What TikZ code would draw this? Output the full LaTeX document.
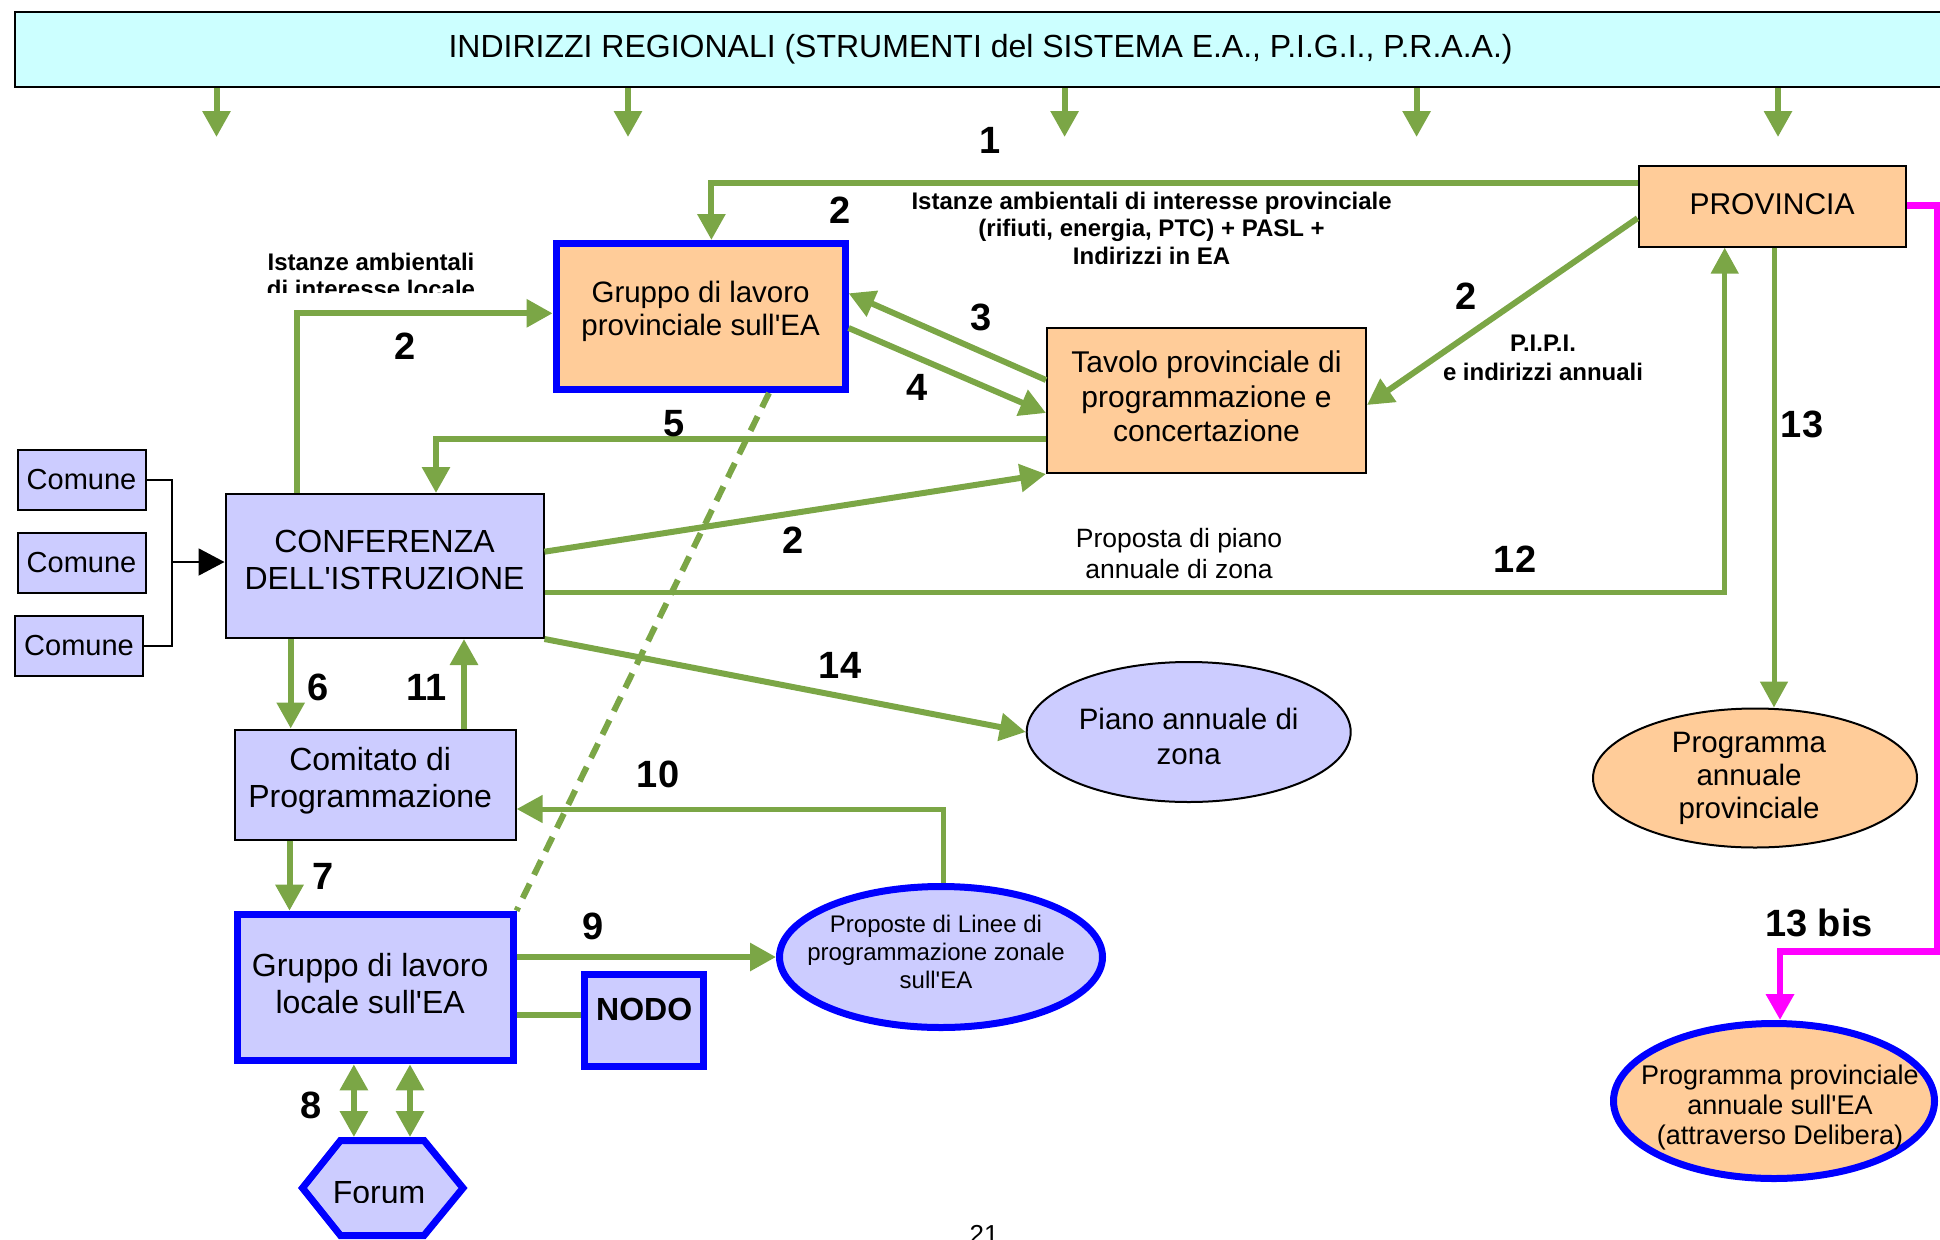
\documentclass[tikz,border=0pt]{standalone}
\usepackage{fontspec}
\setmainfont{Liberation Sans}
\newfontfamily\libs{Liberation Sans}
\usetikzlibrary{arrows.meta,calc,shapes.geometric}
\definecolor{ggreen}{RGB}{123,166,70}
\definecolor{lav}{RGB}{204,204,255}
\definecolor{peach}{RGB}{255,204,153}
\definecolor{lcyan}{RGB}{204,255,255}
\definecolor{bblue}{RGB}{0,0,255}
\definecolor{mag}{RGB}{255,0,255}
\newcommand\myfs[2]{\fontsize{#1}{#2}\libs}
\begin{document}
\begin{tikzpicture}[x=1pt,y=-1pt,
  thinbox/.style={draw=black, line width=2pt, inner sep=0pt, align=center},
  bluebox/.style={draw=bblue, line width=7pt, inner sep=0pt, align=center},
  lab/.style={inner sep=0pt, align=center},
  gl/.style={draw=ggreen, line width=6pt},
  ga/.style={gl, -{Triangle[length=26pt,width=27pt]}},
  gda/.style={gl, {Triangle[length=26pt,width=27pt]}-{Triangle[length=26pt,width=27pt]}},
  ma/.style={draw=mag, line width=6.5pt, -{Triangle[length=26pt,width=27pt]}},
  bk/.style={draw=black, line width=2pt},
  bka/.style={bk, -{Triangle[length=26pt,width=27pt]}},
  num/.style={font=\myfs{38}{38}\bfseries, inner sep=0pt},
  btxt/.style={font=\myfs{24}{27.5}\bfseries, inner sep=0pt, align=center},
  rtxt/.style={font=\myfs{26.5}{31}, inner sep=0pt, align=center}]
\useasboundingbox (0,0) rectangle (1940,1239);

% ---- nodes ----
\node[thinbox, fill=lcyan, minimum width=1931pt, minimum height=75.5pt, font=\myfs{32}{36}] (top) at (980.5,49.5)
  {INDIRIZZI REGIONALI (STRUMENTI del SISTEMA E.A., P.I.G.I., P.R.A.A.)};
\node[thinbox, fill=peach, minimum width=267pt, minimum height=81pt,
  label={[lab, font=\myfs{30}{34}, yshift=2pt]center:PROVINCIA}] (prov) at (1772,206.2) {};
\node[bluebox, fill=peach, minimum width=289pt, minimum height=146pt,
  label={[lab, font=\myfs{29.5}{33}, yshift=5pt]center:{Gruppo di lavoro\\provinciale sull'EA}}] (gprov) at (700.6,316.5) {};
\node[thinbox, fill=peach, minimum width=319pt, minimum height=145pt,
  label={[lab, font=\myfs{30}{34.5}, yshift=4pt]center:{Tavolo provinciale di\\programmazione e\\concertazione}}] (tavolo) at (1206.5,400.5) {};
\node[thinbox, fill=lav, minimum width=318pt, minimum height=144pt,
  label={[lab, font=\myfs{32}{37}, yshift=6pt]center:{CONFERENZA\\DELL'ISTRUZIONE}}] (conf) at (384.5,566) {};
\node[thinbox, fill=lav, minimum width=128pt, minimum height=60pt, font=\myfs{29}{29}] (c1) at (81.5,480) {Comune};
\node[thinbox, fill=lav, minimum width=128pt, minimum height=60pt, font=\myfs{29}{29}] (c2) at (81.5,563) {Comune};
\node[thinbox, fill=lav, minimum width=128pt, minimum height=60pt, font=\myfs{29}{29}] (c3) at (79,645.5) {Comune};
\node[thinbox, fill=lav, minimum width=281pt, minimum height=110pt,
  label={[lab, font=\myfs{32}{37}, yshift=4pt, xshift=-5pt]center:{Comitato di\\Programmazione}}] (comitato) at (375.2,784.5) {};
\node[bluebox, fill=lav, minimum width=275.7pt, minimum height=146.6pt,
  label={[lab, font=\myfs{32}{37}, yshift=4pt, xshift=-5pt]center:{Gruppo di lavoro\\locale sull'EA}}] (glocale) at (375.2,987.5) {};
\node[bluebox, fill=lav, minimum width=118.5pt, minimum height=92.3pt, text depth=22pt, font=\myfs{32}{32}\bfseries] (nodo) at (644.2,1020.3) {NODO};
\node[draw=black, line width=2pt, fill=lav, ellipse, minimum width=324pt, minimum height=140pt, inner sep=0pt,
  label={[lab, font=\myfs{29.5}{35}, yshift=-4pt]center:{Piano annuale di\\zona}}] (piano) at (1188.7,732) {};
\node[draw=black, line width=2pt, fill=peach, ellipse, minimum width=324pt, minimum height=139pt, inner sep=0pt,
  label={[lab, font=\myfs{29.5}{33}, xshift=-6pt]center:{Programma\\annuale\\provinciale}}] (progprov) at (1755,778) {};
\node[draw=bblue, line width=7pt, fill=lav, ellipse, minimum width=323pt, minimum height=141pt, inner sep=0pt,
  label={[lab, font=\myfs{24}{28}, yshift=5pt, xshift=-5pt]center:{Proposte di Linee di\\programmazione zonale\\sull'EA}}] (proposte) at (941,957) {};
\node[draw=bblue, line width=7pt, fill=peach, ellipse, minimum width=321pt, minimum height=155pt, inner sep=0pt,
  label={[lab, font=\myfs{27}{30}, yshift=-6pt, xshift=6pt]center:{Programma provinciale\\annuale sull'EA\\(attraverso Delibera)}}] (progEA) at (1774,1101) {};
% Forum hexagon
\draw[draw=bblue, line width=7pt, fill=lav, line join=miter] (340.5,1140.5) -- (424,1140.5) -- (463,1188) -- (424,1235.5) -- (340.5,1235.5) -- (302.5,1188) -- cycle;
\begin{scope}
  \clip (300,1150) rectangle (470,1202);
  \node[font=\myfs{32}{32}, inner sep=0pt] (forum) at (379,1193) {Forum};
\end{scope}

% ---- top arrows ----
\foreach \x [count=\i] in {216.5,628,1064.6,1416.6,1778} {
  \coordinate (tip\i) at (\x,137);
  \draw[ga] (top.south -| tip\i) -- (tip\i);
}

% ---- connectors ----
\coordinate (b1) at (711.4,182.7);
\draw[ga] (prov.west |- b1) -- (b1) -- (gprov.north -| b1);
\coordinate (b2) at (297,313.3);
\draw[ga] (conf.north -| b2) -- (b2) -- (gprov.west |- b2);
\draw[ga] ([shift={(0,-20.5)}]tavolo.west) -- ([shift={(0,-23.2)}]gprov.east);
\draw[ga] ([shift={(0,11.5)}]gprov.east) -- ([shift={(0,12.5)}]tavolo.west);
\draw[ga] ([shift={(0,12)}]prov.west) -- ([shift={(0,4.5)}]tavolo.east);
\coordinate (b5) at (436,439.3);
\draw[ga] (tavolo.west |- b5) -- (b5) -- (conf.north -| b5);
\draw[ga] ([shift={(0,-14.3)}]conf.east) -- (tavolo.south west);
\coordinate (b12) at (1724.7,592);
\draw[ga, line width=5pt] (conf.east |- b12) -- (b12) -- (prov.south -| b12);
\coordinate (b13) at (1774,500);
\draw[ga, line width=5pt] (prov.south -| b13) -- (progprov.north -| b13);
\coordinate (m1) at (1937,205.5);
\coordinate (m2) at (1937,951.7);
\coordinate (m3) at (1780,951.7);
\draw[ma] (prov.east |- m1) -- (m1) -- (m2) -- (m3) -- (progEA.north -| m3);
\draw[ga] (conf.south east) -- (piano.west);
\coordinate (x6) at (290.7,0);
\draw[ga] (conf.south -| x6) -- (comitato.north -| x6);
\coordinate (x11) at (464,0);
\draw[ga] (comitato.north -| x11) -- (conf.south -| x11);
\coordinate (x7) at (289.5,0);
\draw[ga] (comitato.south -| x7) -- (glocale.north -| x7);
\coordinate (f8a) at (353.9,1137);
\coordinate (f8b) at (410,1137);
\draw[gda] (glocale.south -| f8a) -- (f8a);
\draw[gda] (glocale.south -| f8b) -- (f8b);
\draw[ga] (glocale.east |- proposte.west) -- (proposte.west);
\coordinate (n1) at (0,1015);
\draw[gl] (glocale.east |- n1) -- (nodo.west |- n1);
\coordinate (b10) at (943.4,809);
\draw[ga, line width=5pt] (proposte.north -| b10) -- (b10) -- (comitato.east |- b10);
\coordinate (ds) at (769,0);
\draw[gl, dash pattern=on 16pt off 10pt] (gprov.south -| ds) -- (glocale.north east);
% Comune bracket
\coordinate (br) at (172,562);
\draw[bk] (c1.east) -| (br) |- (c3.east);
\draw[bka] (br) -- (conf.west |- br);

% ---- labels ----
\node[num] (l1) at (990,140) {1};
\node[num] (l2a) at (840,210) {2};
\node[num] (l2b) at (405.5,346) {2};
\node[num] (l3) at (981,317) {3};
\node[num] (l4) at (917,387) {4};
\node[num] (l2c) at (1466,296) {2};
\node[num] (l5) at (674,424) {5};
\node[num] (l2d) at (793,540) {2};
\node[num] (l12) at (1515,559) {12};
\node[num] (l13) at (1802,424) {13};
\node[num] (l14) at (840,665) {14};
\node[num] (l6) at (318,687) {6};
\node[num] (l11) at (427,687) {11};
\node[num] (l10) at (658,774) {10};
\node[num] (l7) at (323,876) {7};
\node[num] (l9) at (593,926) {9};
\node[num] (l8) at (311,1105) {8};
\node[num] (l13b) at (1819,922.5) {13 bis};

\node[btxt] (istprov) at (1151.6,228) {Istanze ambientali di interesse provinciale\\(rifiuti, energia, PTC) + PASL +\\Indirizzi in EA};
\node[btxt, font=\myfs{24}{28.5}\bfseries] (pipi) at (1543,358) {P.I.P.I.\\e indirizzi annuali};
\begin{scope}
  \clip (200,230) rectangle (520,292.5);
  \node[btxt, font=\myfs{24}{27}\bfseries] (istloc) at (371,275) {Istanze ambientali\\di interesse locale};
\end{scope}
\node[rtxt] (propo) at (1179,554) {Proposta di piano\\annuale di zona};
\node[font=\myfs{26}{26}, inner sep=0pt, anchor=base] (pag) at (984,1243) {21};
\end{tikzpicture}
\end{document}
